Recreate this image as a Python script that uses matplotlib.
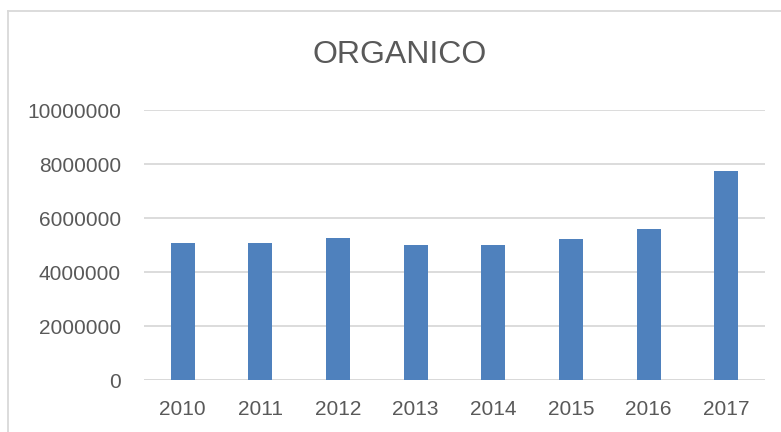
import matplotlib
matplotlib.use("Agg")
import matplotlib.pyplot as plt
from matplotlib.lines import Line2D

years = ["2010", "2011", "2012", "2013", "2014", "2015", "2016", "2017"]
values = [5080000, 5080000, 5250000, 5010000, 5010000, 5230000, 5600000, 7740000]
y_ticks = [0, 2000000, 4000000, 6000000, 8000000, 10000000]
title = "ORGANICO"

W, H, DPI = 781, 432, 100
fig = plt.figure(figsize=(W / DPI, H / DPI), dpi=DPI)
fig.patch.set_facecolor("white")

text_color = "#595959"
grid_color = "#d9d9d9"
bar_color = "#4f81bd"
font = ["Liberation Sans", "DejaVu Sans"]

# chart-area frame (left and top edges visible)
fig.add_artist(Line2D([8 / W, 8 / W], [0, 1 - 11 / H], transform=fig.transFigure,
                      color=grid_color, lw=1.3))
fig.add_artist(Line2D([8 / W, 1], [1 - 11 / H, 1 - 11 / H], transform=fig.transFigure,
                      color=grid_color, lw=1.3))

ax = fig.add_axes([144 / W, 1 - 380 / H, (765 - 144) / W, (380 - 110) / H])
x = range(len(years))
ax.bar(x, values, width=0.31, color=bar_color, zorder=3)
ax.set_xlim(-0.5, len(years) - 0.5)
ax.set_ylim(0, 10000000)
ax.set_yticks(y_ticks)
ax.set_yticklabels([str(v) for v in y_ticks])
ax.set_xticks(list(x))
ax.set_xticklabels(years)

for s in ax.spines.values():
    s.set_visible(False)
ax.yaxis.grid(True, color=grid_color, lw=1.3, zorder=0)
ax.set_axisbelow(True)
ax.axhline(0, color=grid_color, lw=1.3, zorder=2)

ax.tick_params(axis="both", length=0, labelsize=15, labelcolor=text_color)
ax.tick_params(axis="y", pad=16.5)
ax.tick_params(axis="x", pad=14.5)
for lab in ax.get_xticklabels() + ax.get_yticklabels():
    lab.set_family(font)

fig.text(400 / W, 1 - 55 / H, title, ha="center", va="center", fontsize=23,
         color=text_color, family=font)

fig.savefig("out.png", dpi=DPI)
